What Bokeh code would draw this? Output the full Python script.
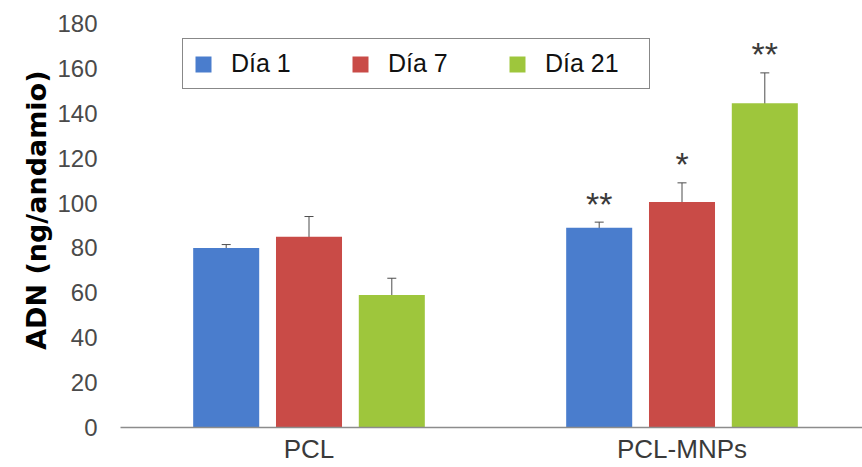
import numpy as np
from bokeh.plotting import figure
from bokeh.models import (ColumnDataSource, Range1d, FixedTicker, Whisker, TeeHead,
                          Legend, LegendItem, Title)
from bokeh.core.properties import value
from bokeh.embed import file_html
from bokeh.resources import INLINE

# ---- data ----
groups = ["PCL", "PCL-MNPs"]
days = ["Día 1", "Día 7", "Día 21"]
dia1 = [80, 89]
dia7 = [85, 100.5]
dia21 = [59, 144.5]
err1 = [1.5, 2.5]
err7 = [9, 8.5]
err21 = [7.5, 13.5]
stars1 = ["", "**"]
stars7 = ["", "*"]
stars21 = ["", "**"]
y_ticks = [0, 20, 40, 60, 80, 100, 120, 140, 160, 180]
y_title = "ADN (ng/andamio)"

colors = ["#4a7dcd", "#c94b47", "#9ec63c"]
offsets = [-0.222, 0.0, 0.222]
bar_w = 0.177

p = figure(width=862, height=467, output_backend="svg", toolbar_location=None,
           x_range=Range1d(-2 / 373, 740 / 373), y_range=Range1d(0, 180),
           min_border_left=120, min_border_right=0, min_border_top=23,
           min_border_bottom=40)
p.outline_line_color = None
p.xgrid.visible = False
p.ygrid.visible = False

centers = np.arange(len(groups)) + 0.5
renderers = []
for vals, errs, stars, col, off in zip([dia1, dia7, dia21], [err1, err7, err21],
                                       [stars1, stars7, stars21], colors, offsets):
    x = centers + off
    v = np.array(vals, dtype=float)
    e = np.array(errs, dtype=float)
    src = ColumnDataSource(dict(x=x, top=v, upper=v + e, lower=v - e, star=stars,
                                star_y=v + e + 8.2))
    r = p.vbar(x="x", top="top", width=bar_w, bottom=0, source=src,
               fill_color=col, line_color=None)
    renderers.append(r)
    w = Whisker(base="x", upper="upper", lower="lower", source=src,
                line_color="#4d4d4d", line_width=1,
                upper_head=TeeHead(size=9, line_color="#4d4d4d", line_width=1),
                lower_head=TeeHead(size=9, line_color="#4d4d4d", line_width=1))
    p.add_layout(w)
    p.text(x="x", y="star_y", text="star", source=src, text_align="center",
           text_baseline="alphabetic", text_font=value("Liberation Sans"),
           text_font_size="34px", text_color="#3a3a3a")

# axes
p.xaxis.ticker = FixedTicker(ticks=list(centers))
p.xaxis.major_label_overrides = {float(c): g for c, g in zip(centers, groups)}
p.xaxis.major_tick_line_color = None
p.xaxis.minor_tick_line_color = None
p.xaxis.axis_line_color = "#8c8c8c"
p.xaxis.axis_line_width = 1.5
p.xaxis.major_label_text_font = "Liberation Sans"
p.xaxis.major_label_text_font_size = "26px"
p.xaxis.major_label_text_color = "#3a3a3a"
p.xaxis.major_label_standoff = 0

p.yaxis.ticker = FixedTicker(ticks=y_ticks)
p.yaxis.axis_line_color = None
p.yaxis.major_tick_line_color = None
p.yaxis.minor_tick_line_color = None
p.yaxis.major_label_standoff = 17
p.yaxis.major_label_text_font = "Liberation Sans"
p.yaxis.major_label_text_font_size = "24px"
p.yaxis.major_label_text_color = "#4a4a4a"

ytitle = Title(text=y_title, align="right", offset=47, standoff=5,
               text_font="DejaVu Sans", text_font_style="bold",
               text_font_size="27px", text_color="#000000")
p.add_layout(ytitle, "left")

legend = Legend(items=[LegendItem(label=d, renderers=[r]) for d, r in zip(days, renderers)],
                orientation="horizontal", location=(62, 338),
                glyph_width=20, glyph_height=20, label_standoff=18,
                label_width=94, spacing=25, padding=10, margin=0,
                label_text_font="Liberation Sans", label_text_font_size="25px",
                label_text_color="#111111",
                border_line_color="#111111", border_line_width=1.5,
                background_fill_color="white", background_fill_alpha=1)
p.add_layout(legend)

open("out.html", "w").write(file_html(p, INLINE))
